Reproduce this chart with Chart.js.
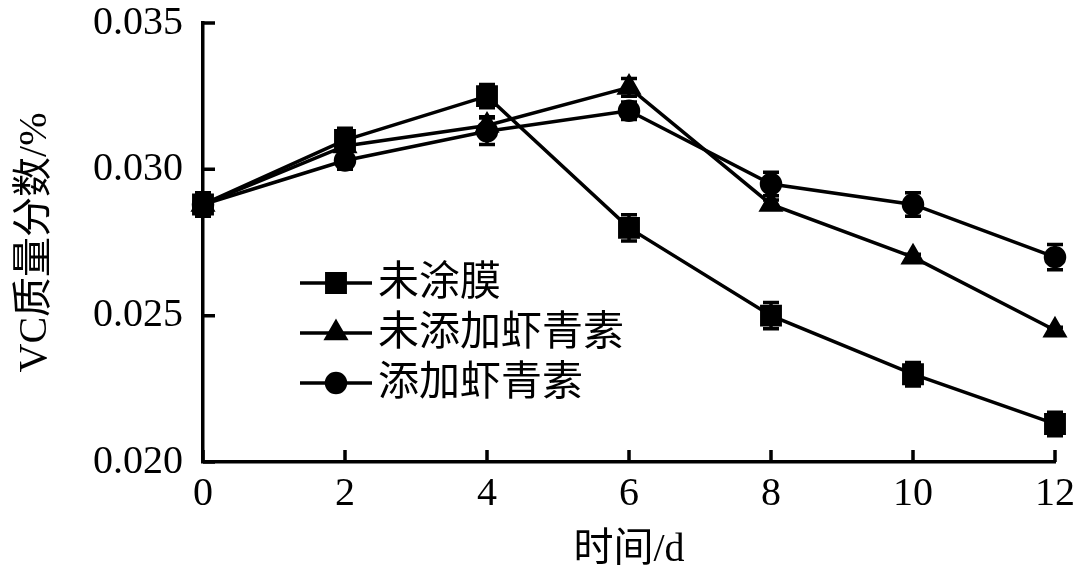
<!DOCTYPE html>
<html>
<head>
<meta charset="utf-8">
<script src="https://cdn.jsdelivr.net/npm/chart.js@4"></script>
<style>
  html, body { margin: 0; padding: 0; background: #fff; }
  #wrap { width: 1080px; height: 581px; }
</style>
</head>
<body>
<div id="wrap"><canvas id="myChart"></canvas></div>
<script>
const days = [0, 2, 4, 6, 8, 10, 12];
const seriesNames = ['未涂膜', '未添加虾青素', '添加虾青素'];
const uncoated = [0.0288, 0.0310, 0.0325, 0.0280, 0.0250, 0.0230, 0.0213];
const noAstax = [0.0288, 0.0308, 0.0315, 0.0328, 0.0288, 0.0270, 0.0245];
const withAstax = [0.0288, 0.0303, 0.0313, 0.0320, 0.0295, 0.0288, 0.0270];
const uncoatedErr = [0.0004, 0.0004, 0.0004, 0.00045, 0.00045, 0.0004, 0.0004];
const noAstaxErr = [0.0004, 0.0003, 0.0003, 0.0003, 0.00015, 0.0001, 0.0001];
const withAstaxErr = [0.0004, 0.0003, 0.00045, 0.0003, 0.0004, 0.0004, 0.00043];
const yTicks = [0.020, 0.025, 0.030, 0.035];

const FONT = "'Liberation Serif', 'Noto Sans CJK SC', serif";

function pts(vals) {
  return vals.map((v, i) => ({ x: days[i], y: v }));
}

// error bars from the err arrays, through the scales
const errorBars = {
  id: 'errorBars',
  beforeDatasetsDraw(chart) {
    const ctx = chart.ctx;
    const xs = chart.scales.x, ys = chart.scales.y;
    ctx.save();
    ctx.strokeStyle = '#000';
    ctx.lineWidth = 3.5;
    chart.data.datasets.forEach(ds => {
      ds.data.forEach((p, i) => {
        const e = ds.errors[i];
        const px = xs.getPixelForValue(p.x);
        const top = ys.getPixelForValue(p.y + e);
        const bot = ys.getPixelForValue(p.y - e);
        ctx.beginPath();
        ctx.moveTo(px, top); ctx.lineTo(px, bot);
        ctx.moveTo(px - 8, top); ctx.lineTo(px + 8, top);
        ctx.moveTo(px - 8, bot); ctx.lineTo(px + 8, bot);
        ctx.stroke();
      });
    });
    ctx.restore();
  }
};

// inward ticks + legend inside the plot
const extras = {
  id: 'extras',
  afterDraw(chart) {
    const ctx = chart.ctx;
    const xs = chart.scales.x, ys = chart.scales.y;
    const a = chart.chartArea;
    ctx.save();
    ctx.strokeStyle = '#000';
    ctx.lineWidth = 3.5;
    ctx.beginPath();
    ys.ticks.forEach(t => {
      const py = ys.getPixelForValue(t.value);
      ctx.moveTo(a.left, py); ctx.lineTo(a.left + 12, py);
    });
    xs.ticks.forEach(t => {
      const px = xs.getPixelForValue(t.value);
      ctx.moveTo(px, a.bottom); ctx.lineTo(px, a.bottom - 12);
    });
    ctx.stroke();

    chart.data.datasets.forEach((ds, i) => {
      const y = 283 + i * 50;
      ctx.beginPath();
      ctx.lineWidth = 3.5;
      ctx.moveTo(300, y); ctx.lineTo(372, y);
      ctx.stroke();
      ctx.fillStyle = '#000';
      Chart.helpers.drawPoint(ctx, { pointStyle: ds.pointStyle, radius: ds.pointRadius, rotation: 0, borderWidth: 1 }, 336, y);
      ctx.fill();
      ctx.font = '41px ' + FONT;
      ctx.textBaseline = 'middle';
      ctx.fillText(ds.label, 378, y + 1);
    });
    ctx.restore();
  }
};

const baseDs = {
  borderColor: '#000',
  backgroundColor: '#000',
  pointBorderColor: '#000',
  pointBackgroundColor: '#000',
  borderWidth: 3.5,
  tension: 0,
  fill: false,
  clip: false
};

new Chart(document.getElementById('myChart'), {
  type: 'line',
  data: {
    datasets: [
      { ...baseDs, label: seriesNames[0], data: pts(uncoated), errors: uncoatedErr, pointStyle: 'rect', pointRadius: 13 },
      { ...baseDs, label: seriesNames[1], data: pts(noAstax), errors: noAstaxErr, pointStyle: 'triangle', pointRadius: 11 },
      { ...baseDs, label: seriesNames[2], data: pts(withAstax), errors: withAstaxErr, pointStyle: 'circle', pointRadius: 9.5 }
    ]
  },
  options: {
    responsive: true,
    maintainAspectRatio: false,
    animation: false,
    layout: { padding: { left: 0, top: 23, right: 25, bottom: 0 } },
    plugins: { legend: { display: false }, tooltip: { enabled: false } },
    scales: {
      x: {
        type: 'linear',
        min: 0, max: 12,
        afterFit: s => { s.height = 119; s.paddingLeft = 0; s.paddingRight = 0; },
        ticks: { stepSize: 2, color: '#000', padding: 8, font: { family: FONT, size: 40 } },
        grid: { drawOnChartArea: false, drawTicks: false },
        border: { color: '#000', width: 3.5 },
        title: { display: true, text: '时间/d', color: '#000', padding: { top: 0, bottom: 7 }, font: { family: FONT, size: 40 } }
      },
      y: {
        type: 'linear',
        min: yTicks[0], max: yTicks[yTicks.length - 1],
        afterFit: s => { s.width = 203; s.paddingTop = 0; s.paddingBottom = 0; },
        afterBuildTicks: s => { s.ticks = yTicks.map(v => ({ value: v })); },
        ticks: { color: '#000', padding: 20, font: { family: FONT, size: 40 }, callback: v => v.toFixed(3) },
        grid: { drawOnChartArea: false, drawTicks: false },
        border: { color: '#000', width: 3.5 },
        title: { display: true, text: 'VC质量分数/%', color: '#000', padding: { top: 11, bottom: 0 }, font: { family: FONT, size: 40 } }
      }
    }
  },
  plugins: [errorBars, extras]
});
</script>
</body>
</html>
